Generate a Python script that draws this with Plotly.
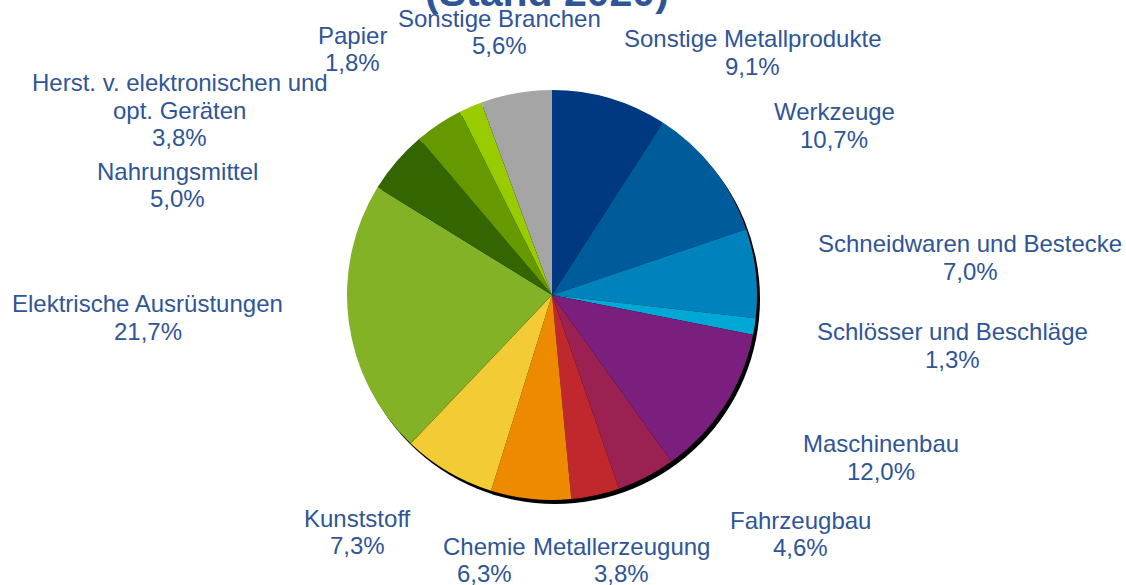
import plotly.graph_objects as go

# ---- data ----
branches = [
    "Sonstige Metallprodukte", "Werkzeuge", "Schneidwaren und Bestecke",
    "Schlösser und Beschläge", "Maschinenbau", "Fahrzeugbau",
    "Metallerzeugung", "Chemie", "Kunststoff", "Elektrische Ausrüstungen",
    "Nahrungsmittel", "Herst. v. elektronischen und|opt. Geräten",
    "Papier", "Sonstige Branchen",
]
shares = [9.1, 10.7, 7.0, 1.3, 12.0, 4.6, 3.8, 6.3, 7.3, 21.7, 5.0, 3.8, 1.8, 5.6]
subtitle = "(Stand 2020)"

# ---- styles / layout ----
colors = ["#003882", "#005B9A", "#0083BD", "#00A8D6", "#7A1F7D", "#9B2152",
          "#C0282D", "#EE8A00", "#F2CB35", "#84B226", "#336600", "#669900",
          "#99CC00", "#A5A5A5"]
text_color = "#2F5597"
FONT = "Liberation Sans, Arial"
W, H = 1126, 585

# label anchor on screen: (x centre, y centre of first line)
label_pos = [
    (752, 38.5), (834, 111.5), (970, 243.5), (952, 331.5), (880.5, 443.5),
    (800, 520), (621.5, 546), (484, 546), (358, 518), (147.5, 303.5),
    (177, 171), (179.5, 82.5), (352, 35), (499, 18),
]
LINE = 27.5


def px(x):
    return x / W


def py(y):
    return 1 - y / H


def fmt(v):
    return f"{v:.1f}".replace(".", ",") + "%"


# pie geometry (screen pixels)
cx, cy, r = 552, 295, 205
sx, sy = 3, 4  # shadow offset


def dom(x0, x1, y0, y1):
    return dict(x=[px(x0), px(x1)], y=[py(y1), py(y0)])


fig = go.Figure()
fig.add_trace(go.Pie(
    values=[1], labels=["shadow"], marker=dict(colors=["#000000"]),
    textinfo="none", hoverinfo="skip", showlegend=False, sort=False,
    domain=dom(cx - r + sx, cx + r + sx, cy - r + sy, cy + r + sy),
))
fig.add_trace(go.Pie(
    values=shares, labels=[b.replace("|", " ") for b in branches],
    marker=dict(colors=colors, line=dict(width=0)),
    textinfo="none", sort=False, direction="clockwise", rotation=0,
    showlegend=False,
    domain=dom(cx - r, cx + r, cy - r, cy + r),
))

annotations = []
for name, v, (lx, ly) in zip(branches, shares, label_pos):
    lines = name.split("|") + [fmt(v)]
    for i, t in enumerate(lines):
        annotations.append(dict(
            text=t, x=px(lx), y=py(ly + i * LINE), xref="paper", yref="paper",
            xanchor="center", yanchor="middle", showarrow=False,
            font=dict(family=FONT, size=24, color=text_color),
        ))
annotations.append(dict(
    text=f"<b>{subtitle}</b>", x=px(546.5), y=py(17), xref="paper", yref="paper",
    xanchor="center", yanchor="bottom", showarrow=False,
    font=dict(family=FONT, size=41, color=text_color),
))

fig.update_layout(
    width=W, height=H, margin=dict(l=0, r=0, t=0, b=0),
    paper_bgcolor="white", plot_bgcolor="white",
    annotations=annotations,
)
fig.write_html("out.html", config={"displayModeBar": False},
               post_script="document.body.style.margin='0';")
